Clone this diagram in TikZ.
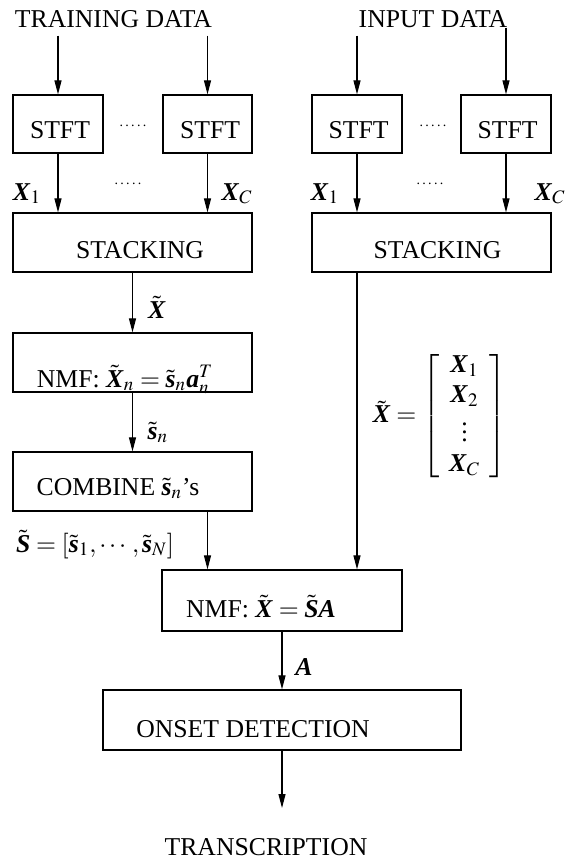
\documentclass[tikz,border=0pt]{standalone}
\usepackage{amsmath}
\usepackage{mathptmx}
\usepackage{fontspec}
\setmainfont{Liberation Serif}
\usetikzlibrary{arrows.meta}
% bold italic vector symbols
\newcommand{\bvec}[1]{\mbox{\bfseries\itshape #1\/}}

\tikzset{
  txt/.style={anchor=base, inner sep=0pt, font=\fontsize{12.85}{15}\selectfont},
  blk/.style 2 args={draw, line width=0.6pt, inner sep=0pt,
    minimum width=#1*0.5pt, minimum height=#2*0.5pt},
  arr/.style={line width=0.55pt, -{Triangle[length=7pt,width=3.5pt]}},
  dotrow/.style={anchor=base, inner sep=0pt, font=\fontsize{7}{7}\selectfont},
}

\begin{document}
\begin{tikzpicture}[x=0.5pt,y=-0.5pt]
\useasboundingbox (0,0) rectangle (574,858);

% headings
\node[txt] (train) at (113.5,27) {TRAINING DATA};
\node[txt] (input) at (433,27) {INPUT DATA};

% STFT blocks
\node[blk={90}{58}] (stftL1) at (58,124) {};
\node[blk={89}{58}] (stftL2) at (207.5,124) {};
\node[blk={90}{58}] (stftR1) at (357,124) {};
\node[blk={90}{58}] (stftR2) at (506,124) {};
\node[txt] (tL1) at (60,138) {STFT};
\node[txt] (tL2) at (210,138) {STFT};
\node[txt] (tR1) at (358.5,138) {STFT};
\node[txt] (tR2) at (507.5,138) {STFT};

\node[dotrow] (dL1) at (133,126) {.\,.\,.\,.\,.};
\node[dotrow] (dR1) at (433,126) {.\,.\,.\,.\,.};
\node[dotrow] (dL2) at (128,184) {.\,.\,.\,.\,.};
\node[dotrow] (dR2) at (430,184) {.\,.\,.\,.\,.};

% stacking blocks
\node[blk={239}{59}] (stackL) at (132.5,242.5) {};
\node[blk={239}{59}] (stackR) at (431.5,242.5) {};
\node[txt] (tsL) at (140,258) {STACKING};
\node[txt] (tsR) at (437.5,258) {STACKING};

% training branch
\node[blk={239}{59}] (nmf1) at (132.5,362.5) {};
\node[txt] (tn1) at (125,387) {NMF: $\tilde{\bvec{X}}_n=\tilde{\bvec{s}}_n\bvec{a}_n^T$};
\node[blk={239}{59}] (comb) at (132.5,481.5) {};
\node[txt] (tc) at (118,495) {COMBINE $\tilde{\bvec{s}}_n$'s};

% joint factorisation and onset detection
\node[blk={240}{61}] (nmf2) at (282,600.5) {};
\node[txt] (tn2) at (261,617) {NMF: $\tilde{\bvec{X}}=\tilde{\bvec{S}}\bvec{A}$};
\node[blk={358}{60}] (onset) at (282,720) {};
\node[txt] (to) at (253,737) {ONSET DETECTION};
\node[txt] (trans) at (266,855) {TRANSCRIPTION};
\coordinate (outTip) at (282,808);

% signal labels
\node[txt] (xL1) at (27,200) {$\bvec{X}_1$};
\node[txt] (xLC) at (237,200) {$\bvec{X}_C$};
\node[txt] (xR1) at (325,200) {$\bvec{X}_1$};
\node[txt] (xRC) at (550,200) {$\bvec{X}_C$};
\node[txt] (xt) at (157,318) {$\tilde{\bvec{X}}$};
\node[txt] (sn) at (158,439) {$\tilde{\bvec{s}}_n$};
\node[txt] (sS) at (95,552) {$\tilde{\bvec{S}}=[\tilde{\bvec{s}}_1,\cdots,\tilde{\bvec{s}}_N]$};
\node[txt] (aA) at (304,675) {$\bvec{A}$};
\node[txt, anchor=center] (mat) at (440,416)
  {$\tilde{\bvec{X}}=\left[\begin{array}{c}\bvec{X}_1\\ \bvec{X}_2\\ \vdots\\ \bvec{X}_C\end{array}\right]$};

% connectors
\draw[arr, shorten <=4pt] (train.south -| stftL1) -- (stftL1.north);
\draw[arr, shorten <=4pt] (train.south -| stftL2) -- (stftL2.north);
\draw[arr, shorten <=4pt] (input.south -| stftR1) -- (stftR1.north);
\draw[arr] (input.south -| stftR2) -- (stftR2.north);
\draw[arr] (stftL1.south) -- (stftL1 |- stackL.north);
\draw[arr] (stftL2.south) -- (stftL2 |- stackL.north);
\draw[arr] (stftR1.south) -- (stftR1 |- stackR.north);
\draw[arr] (stftR2.south) -- (stftR2 |- stackR.north);
\draw[arr] (stackL.south) -- (nmf1.north);
\draw[arr] (nmf1.south) -- (comb.north);
\draw[arr] (comb.south -| stftL2) -- (stftL2 |- nmf2.north);
\draw[arr] (stackR.south -| stftR1) -- (stftR1 |- nmf2.north);
\draw[arr] (nmf2.south) -- (onset.north);
\draw[arr] (onset.south) -- (outTip);
\end{tikzpicture}
\end{document}
